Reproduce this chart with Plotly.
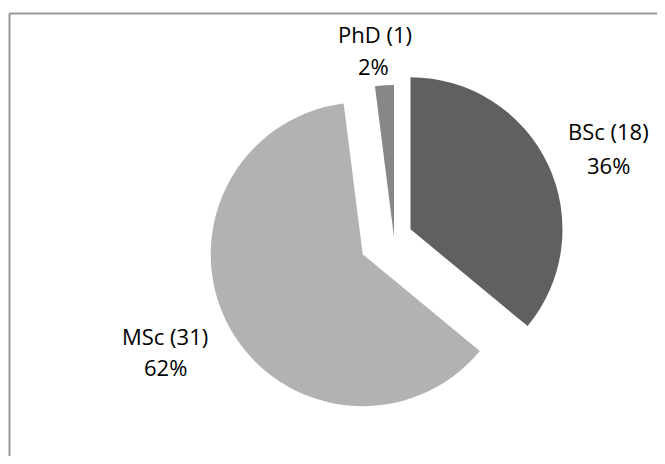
import plotly.graph_objects as go

labels = ["BSc", "MSc", "PhD"]
counts = [18, 31, 1]
colors = ["#606060", "#b2b2b2", "#878787"]
pulls = [0.12, 0.235, 0.0]

# data-label line centres on the page (label line, percent line), in pixels
label_pos = {
    "BSc": [(608, 131), (608, 165)],
    "MSc": [(165, 336), (165, 367)],
    "PhD": [(375, 34), (374, 66)],
}

# page body keeps its 8px margin -> 649 + 16 = 665, 448 + 16 = 464
W, H = 649, 448
OFF = 8
cx, cy, half = 394 - OFF, 237 - OFF, 187.7

fig = go.Figure(go.Pie(
    labels=labels,
    values=counts,
    sort=False,
    direction="clockwise",
    rotation=0,
    pull=pulls,
    marker=dict(colors=colors, line=dict(width=0)),
    textinfo="none",
    showlegend=False,
    hoverinfo="skip",
    automargin=False,
    domain=dict(x=[(cx - half) / W, (cx + half) / W],
                y=[1 - (cy + half) / H, 1 - (cy - half) / H]),
))

total = sum(counts)
font = dict(family="Open Sans", size=22, color="#000000")
annotations = []
for lab, cnt in zip(labels, counts):
    (x1, y1), (x2, y2) = label_pos[lab]
    for (px, py), txt in (((x1, y1), f"{lab} ({cnt})"),
                          ((x2, y2), f"{round(100 * cnt / total)}%")):
        annotations.append(dict(
            text=txt, xref="paper", yref="paper",
            x=(px - OFF) / W, y=1 - (py - OFF) / H,
            xanchor="center", yanchor="middle",
            showarrow=False, font=font,
        ))

fx = (9.5 - OFF) / W
fy = 1 - (13.5 - OFF) / H
fig.update_layout(
    width=W, height=H,
    autosize=False,
    margin=dict(l=0, r=0, t=0, b=0, pad=0, autoexpand=False),
    paper_bgcolor="white",
    plot_bgcolor="white",
    annotations=annotations,
    shapes=[
        dict(type="line", xref="paper", yref="paper",
             x0=fx, x1=1.0, y0=fy, y1=fy,
             line=dict(color="#989898", width=2), layer="below"),
        dict(type="line", xref="paper", yref="paper",
             x0=fx, x1=fx, y0=0.0, y1=fy,
             line=dict(color="#989898", width=2), layer="below"),
    ],
)

fig.write_html("out.html", config={"displayModeBar": False})
